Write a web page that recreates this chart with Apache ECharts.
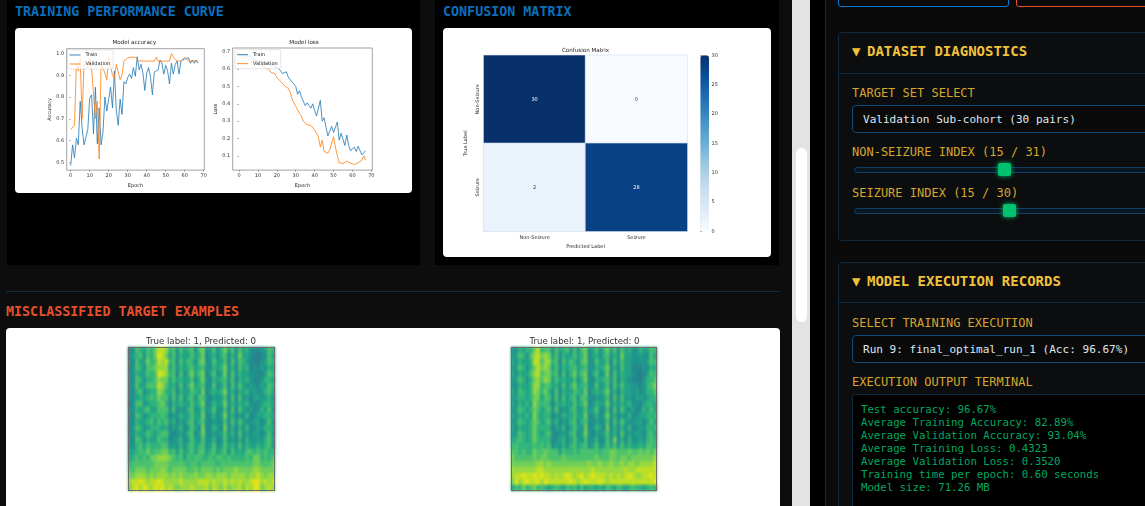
<!DOCTYPE html>
<html><head><meta charset="utf-8">
<script src="https://cdn.jsdelivr.net/npm/echarts@6/dist/echarts.min.js"></script>
<style>
html,body{margin:0;padding:0;width:1145px;height:506px;overflow:hidden;background:#0d0d0d;}
div{box-sizing:border-box;position:absolute;}
.mono{font-family:"DejaVu Sans Mono",monospace;white-space:pre;}
.h{font-weight:bold;font-size:13.35px;line-height:16px;}
.ph{font-weight:bold;font-size:14px;line-height:16px;color:#f2c23c;}
.tri{left:852px;color:#f2c23c;font-size:14px;line-height:16px;}
.lab{font-size:12px;line-height:14px;color:#d6a62e;}
.sel{left:852px;width:320px;height:28px;border:1px solid #0f4a78;border-radius:4px;background:#0a0a0a;color:#dfe8f2;font-size:11.05px;line-height:28px;padding-left:10px;}
.panel{left:838px;width:340px;background:#0c0d0e;border:1px solid #0d2a40;border-radius:4px;}
.track{left:854px;width:320px;height:6px;background:#0a1622;border:1px solid #0f3f66;border-radius:3px;}
.thumb{width:13px;height:13px;background:#00c26e;border-radius:2px;box-shadow:0 0 5px #00c26e;}
.card{background:#fff;border-radius:4px;}
.frame{border:1px solid #6a6a6a;top:19px;height:144px;}
</style></head><body>
<div style="left:7px;top:0;width:413px;height:265px;background:#000"></div>
<div style="left:435px;top:0;width:344px;height:265px;background:#000"></div>
<div class="mono h" style="left:15px;top:4px;color:#0a6fbe">TRAINING PERFORMANCE CURVE</div>
<div class="mono h" style="left:443px;top:4px;color:#0a6fbe">CONFUSION MATRIX</div>
<div class="card" style="left:15px;top:28px;width:397px;height:165px"><div id="curves" style="left:0;top:0;width:397px;height:165px;filter:blur(0.5px)"></div></div>
<div class="card" style="left:443px;top:28px;width:328px;height:229px"><div id="matrix" style="left:0;top:0;width:328px;height:229px;filter:blur(0.5px)"></div></div>
<div style="left:6px;top:291px;width:774px;height:1px;background:#12293a"></div>
<div class="mono h" style="left:6px;top:304px;color:#e8502c">MISCLASSIFIED TARGET EXAMPLES</div>
<div class="card" style="left:6px;top:328px;width:774px;height:190px">
  <div id="specs" style="left:0;top:0;width:774px;height:178px;filter:blur(0.8px)"></div>
  <div class="frame" style="left:122px;width:147px"></div>
  <div class="frame" style="left:505px;width:146px"></div>
  <div style="left:95px;top:5.5px;width:200px;text-align:center;font:8.65px/14px 'DejaVu Sans';color:#333">True label: 1, Predicted: 0</div>
  <div style="left:478.5px;top:5.5px;width:200px;text-align:center;font:8.65px/14px 'DejaVu Sans';color:#333">True label: 1, Predicted: 0</div>
</div>

<div style="left:792px;top:0;width:18px;height:506px;background:#e3e3e3"></div>
<div style="left:796px;top:148px;width:11px;height:174px;background:#fff;border-radius:6px"></div>
<div style="left:810px;top:0;width:16px;height:506px;background:#000"></div>
<div style="left:825px;top:0;width:1px;height:506px;background:#0d2a40"></div>
<div style="left:826px;top:0;width:319px;height:506px;background:#0a0a0a"></div>

<div style="left:838px;top:-10px;width:171px;height:17px;border:1px solid #0a78d0;border-radius:3px"></div>
<div style="left:1016px;top:-10px;width:160px;height:17px;border:1px solid #e8502c;border-radius:3px"></div>

<div class="panel" style="top:32px;height:209px">
  <div style="left:0;top:40px;width:100%;height:1px;background:#0d2a40"></div>
</div>
<div class="mono tri" style="top:43px">▼</div>
<div class="mono ph" style="left:867px;top:43px">DATASET DIAGNOSTICS</div>
<div class="mono lab" style="left:852px;top:86px">TARGET SET SELECT</div>
<div class="mono sel" style="top:105px">Validation Sub-cohort (30 pairs)</div>
<div class="mono lab" style="left:852px;top:145px">NON-SEIZURE INDEX (15 / 31)</div>
<div class="track" style="top:167px"></div><div class="thumb" style="left:998px;top:163px"></div>
<div class="mono lab" style="left:852px;top:186px">SEIZURE INDEX (15 / 30)</div>
<div class="track" style="top:208px"></div><div class="thumb" style="left:1003px;top:204px"></div>

<div class="panel" style="top:262px;height:300px">
  <div style="left:0;top:39px;width:100%;height:1px;background:#0d2a40"></div>
</div>
<div class="mono tri" style="top:273px">▼</div>
<div class="mono ph" style="left:867px;top:273px">MODEL EXECUTION RECORDS</div>
<div class="mono lab" style="left:852px;top:316px">SELECT TRAINING EXECUTION</div>
<div class="mono sel" style="top:335px">Run 9: final_optimal_run_1 (Acc: 96.67%)</div>
<div class="mono lab" style="left:852px;top:375px">EXECUTION OUTPUT TERMINAL</div>
<div class="mono" style="left:852px;top:394px;width:320px;height:140px;background:#000;border:1px solid #0d2a40;border-radius:3px;padding:9px 8px;color:#00a862;font-size:10.7px;line-height:12.95px">Test accuracy: 96.67%
Average Training Accuracy: 82.89%
Average Validation Accuracy: 93.04%
Average Training Loss: 0.4323
Average Validation Loss: 0.3520
Training time per epoch: 0.60 seconds
Model size: 71.26 MB</div>

<script>
const epochs = [0,1,2,3,4,5,6,7,8,9,10,11,12,13,14,15,16,17,18,19,20,21,22,23,24,25,26,27,28,29,30,31,32,33,34,35,36,37,38,39,40,41,42,43,44,45,46,47,48,49,50,51,52,53,54,55,56,57,58,59,60,61,62,63,64,65,66,67];
const accTrain = [.485,.58,.52,.61,.58,.78,.66,.58,.58,.65,.795,.81,.63,.845,.585,.75,.58,.64,.80,.735,.74,.845,.75,.92,.74,.67,.79,.72,.87,.86,.89,.905,.885,.935,.895,.985,.925,.95,.91,.83,.91,.935,.89,.81,.915,.92,.925,.97,.955,.905,.945,.92,.86,.955,.905,.95,.965,.905,.965,.96,.975,.97,.98,.955,.97,.955,.97,.955];
const accVal = [.65,.65,.67,.95,.92,.98,.70,.95,.945,.935,.98,.93,.93,.70,.78,.515,.95,.93,.91,.88,.98,.98,.90,.885,.95,.95,.88,.90,.965,.965,.98,.983,.983,.983,.983,.983,.965,.965,.965,.965,.965,.965,.965,.965,.965,.983,.965,.965,.965,.965,.965,.965,.965,1.0,.983,.983,.965,.965,.965,.965,.983,.983,.965,.965,.965,.965,.965,.965];
const lossTrain = [.69,.685,.68,.68,.675,.67,.675,.66,.67,.65,.66,.645,.65,.635,.64,.625,.64,.62,.635,.615,.61,.605,.595,.575,.585,.585,.555,.54,.53,.515,.5,.455,.475,.44,.445,.39,.405,.395,.375,.40,.36,.33,.32,.42,.30,.32,.265,.215,.22,.27,.235,.24,.295,.19,.23,.195,.16,.22,.16,.13,.135,.15,.125,.155,.13,.105,.115,.13];
const lossVal = [.68,.675,.67,.665,.66,.655,.65,.645,.64,.635,.63,.62,.62,.615,.61,.615,.595,.58,.57,.575,.55,.545,.53,.525,.505,.505,.49,.47,.43,.425,.385,.375,.345,.33,.30,.29,.28,.275,.275,.28,.25,.23,.21,.15,.19,.125,.125,.115,.135,.13,.21,.15,.10,.06,.055,.055,.06,.07,.06,.058,.055,.05,.045,.06,.06,.075,.10,.075];
const epochTicks = [0,10,20,30,40,50,60,70];
const accTicks = [0.5,0.6,0.7,0.8,0.9,1.0];
const lossTicks = [0.1,0.2,0.3,0.4,0.5,0.6,0.7];
const cmLabels = ['Non-Seizure','Seizure'];
const cmNonSeizure = [30,0];
const cmSeizure = [2,28];
const specA = [
"1254354688745253452562352463525342112354",
"1345254698635243353461342452426332101253",
"2153364587845153542562253351525431102354",
"1254255677735243453452243462415341213243",
"1243354598745152463561352361524332211354",
"2154244576635343352462143452514342112443",
"1253355587534252463452252351525323213354",
"2145234476435143354361343462414342322453",
"1234345465525252452552132351515231332342",
"0255234456414343353461243362424342213443",
"1243453355525132452352352251515323124352",
"2154234445413243353361241362413241233443",
"1243345354524132452452132251525322331352",
"1254234443413241353261243161414241232443",
"1243354345521232451362132352415232331352",
"2154243354412341353252241252314142232453",
"2245354445523242453452352353425243343452",
"3345464556645353453553453452534355454544",
"3454546677765453545544545545444454664545",
"4555555666655555455455554555555555665556",
"5566656667656666556566656566676666776666",
"6677767677767676667667767776777767787677",
"7889878898777787777888787787878778997878",
"6897987989787677787778687686778687996787"];
const specB = [
"2243446845525345252562352463525342243354",
"2354257867635243353461342452426332232253",
"3243348857745153542562253351525332222354",
"2354246867635243453452243462415331112243",
"3243357856645152463561352361524332101354",
"2354246757635343352462143452514321102445",
"2243347745534252463452252351525332212456",
"3254347646425143354361343462414332322445",
"2344346635525252452552132351515231332344",
"3243437545414343353461243362424342213443",
"2354346534525132452352352251515323124353",
"3243437434413243353361241362413241233444",
"2354346534524132452452132251525322331353",
"3243346444413241353261243161414241232444",
"2354346434521232451362132352415232331453",
"3454346444412341353252241252614142232454",
"4544445454523242453452352353525343343554",
"5545446556555354454555554556655565565656",
"6555556566555565555555565556656656666667",
"6666666776766666666667667667667677677778",
"7777777887777777777777877777777877888888",
"7889889898878789878978988878787898778898",
"6978988979888888987898889878888888888889",
"3546456454345435453534434354354345443454"];

const font = 'DejaVu Sans';
const tickStyle = {length:1.6, lineStyle:{color:'#444',width:0.5}};
function line(name,xi,ys,color){return {type:'line',name,xAxisIndex:xi,yAxisIndex:xi,data:epochs.map((e,i)=>[e,ys[i]]),showSymbol:false,lineStyle:{color,width:0.8},itemStyle:{color},silent:true};}
function legend(left,top){return {left,top,orient:'vertical',icon:'rect',data:['Train','Validation'],itemWidth:11,itemHeight:0.9,itemGap:4,padding:[2.5,3,2.5,2],backgroundColor:'rgba(255,255,255,0.8)',borderColor:'#ccc',borderWidth:0.5,borderRadius:1,textStyle:{fontFamily:font,fontSize:5,color:'#222'}};}
function xAx(g,min,max,name){return {type:'value',gridIndex:g,min,max,name,nameLocation:'middle',nameGap:10.5,nameTextStyle:{fontFamily:font,fontSize:5,color:'#222'},axisLine:{show:false},splitLine:{show:false},axisTick:{...tickStyle,customValues:epochTicks},axisLabel:{customValues:epochTicks,fontFamily:font,fontSize:5,color:'#333',margin:3}};}
function yAx(g,min,max,name,ticks,gap){return {type:'value',gridIndex:g,min,max,name,nameLocation:'middle',nameGap:gap,nameTextStyle:{fontFamily:font,fontSize:5,color:'#222'},axisLine:{show:false},splitLine:{show:false},axisTick:{...tickStyle,customValues:ticks},axisLabel:{customValues:ticks,formatter:v=>v.toFixed(1),fontFamily:font,fontSize:5,color:'#333',margin:2.5}};}
const gridBase = {show:true,borderColor:'#666',borderWidth:0.6,backgroundColor:'#fff'};
const titleStyle = {fontFamily:font,fontSize:5.6,fontWeight:'normal',color:'#222'};
echarts.init(document.getElementById('curves')).setOption({
  animation:false,
  title:[{text:'Model accuracy',left:119.3,top:12,padding:0,textAlign:'center',textStyle:titleStyle},
         {text:'Model loss',left:289,top:12,padding:0,textAlign:'center',textStyle:titleStyle}],
  grid:[{...gridBase,left:51.7,right:207.7,top:20.7,bottom:19.3},{...gridBase,left:217.7,right:39.7,top:20,bottom:19.3}],
  legend:[legend(52.5,22),legend(220,21.7)],
  xAxis:[xAx(0,-2.1,70.3,'Epoch'),xAx(1,-3.33,70.5,'Epoch')],
  yAxis:[yAx(0,0.464,1.022,'Accuracy',accTicks,13.5),yAx(1,0.0176,0.722,'Loss',lossTicks,12.5)],
  series:[line('Train',0,accTrain,'#1f77b4'),line('Validation',0,accVal,'#ff7f0e'),line('Train',1,lossTrain,'#1f77b4'),line('Validation',1,lossVal,'#ff7f0e')]
});

const cmData = [];
[cmNonSeizure,cmSeizure].forEach((row,y)=>row.forEach((v,x)=>cmData.push({value:[x,y,v],label:{color:v>15?'#fff':'#333'}})));
echarts.init(document.getElementById('matrix')).setOption({
  animation:false,
  title:{text:'Confusion Matrix',left:142.5,top:19.9,padding:0,textAlign:'center',textStyle:titleStyle},
  grid:[{left:40.7,right:83.7,top:27.3,bottom:25.7},{left:257.3,width:8.7,top:27.3,height:176}],
  xAxis:[{type:'category',gridIndex:0,data:cmLabels,name:'Predicted Label',nameLocation:'middle',nameGap:11.5,nameTextStyle:{fontFamily:font,fontSize:5,color:'#222'},axisLine:{show:false},splitLine:{show:false},axisTick:{alignWithLabel:true,length:1.6,lineStyle:{color:'#444',width:0.5}},axisLabel:{fontFamily:font,fontSize:5,color:'#333',margin:3.5}},
         {type:'value',gridIndex:1,show:false}],
  yAxis:[{type:'category',gridIndex:0,inverse:true,data:cmLabels,name:'True Label',nameLocation:'middle',nameGap:15,nameTextStyle:{fontFamily:font,fontSize:5,color:'#222'},axisLine:{show:false},splitLine:{show:false},axisTick:{alignWithLabel:true,length:1.6,lineStyle:{color:'#444',width:0.5}},axisLabel:{rotate:90,fontFamily:font,fontSize:5,color:'#333',margin:3}},
         {type:'value',gridIndex:1,position:'right',min:0,max:30,interval:5,axisLine:{show:false},splitLine:{show:false},axisTick:{show:true,length:1.6,lineStyle:{color:'#444',width:0.5}},axisLabel:{fontFamily:font,fontSize:5,color:'#333',margin:2.5}}],
  visualMap:{type:'continuous',seriesIndex:0,min:0,max:30,left:257.3,top:27.3,itemWidth:8.7,itemHeight:176,padding:0,text:null,showLabel:false,calculable:false,inRange:{color:['#f7fbff','#deebf7','#c6dbef','#9ecae1','#6baed6','#4292c6','#2171b5','#08519c','#08306b']}},
  series:[{type:'heatmap',xAxisIndex:0,yAxisIndex:0,data:cmData,label:{show:true,fontFamily:font,fontSize:5},itemStyle:{borderColor:'#cfdcec',borderWidth:0.6},silent:true}]
});

function specSeries(rows,i){const d=[];rows.forEach((r,y)=>[...r].forEach((c,x)=>d.push([x,y,+c])));
  return {type:'heatmap',xAxisIndex:i,yAxisIndex:i,data:d,silent:true,progressive:0};}
function idx(n){return Array.from({length:n},(_,i)=>i);}
echarts.init(document.getElementById('specs')).setOption({
  animation:false,
  grid:[{left:122,width:147,top:19,height:144},{left:505,width:146,top:19,height:144}],
  xAxis:[0,1].map(g=>({type:'category',gridIndex:g,data:idx(40),show:false})),
  yAxis:[0,1].map(g=>({type:'category',gridIndex:g,data:idx(24),inverse:true,show:false})),
  visualMap:{show:false,min:0,max:9,seriesIndex:[0,1],inRange:{color:['#277f8e','#23898e','#1f948c','#20a386','#2fb47c','#4ac16d','#6ece58','#95d840','#bddf26','#dfe318']}},
  series:[specSeries(specA,0),specSeries(specB,1)]
});
</script>
</body></html>
